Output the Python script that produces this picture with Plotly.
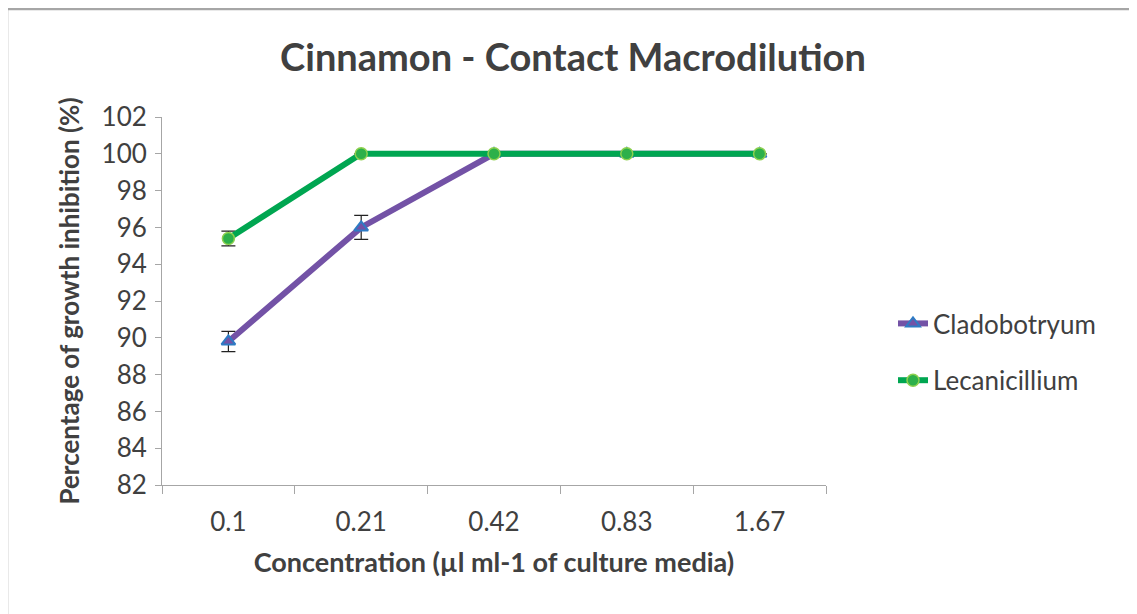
import plotly.graph_objects as go

categories = ["0.1", "0.21", "0.42", "0.83", "1.67"]
clado = [89.8, 96.0, 100.0, 100.0, 100.0]
clado_err = [0.55, 0.65, 0.0, 0.0, 0.0]
lecan = [95.4, 100.0, 100.0, 100.0, 100.0]
lecan_err = [0.4, 0.0, 0.0, 0.0, 0.0]
y_ticks = list(range(82, 103, 2))

FONT = "Lato"
OFF = 8  # page body offset
W, H = 1137 - OFF, 614 - OFF
L, T = 162 - OFF, 117 - OFF
PR, PB = 826 - OFF, 485 - OFF
R, B = W - PR, H - PB
pw, ph = PR - L, PB - T

fig = go.Figure()
fig.add_trace(go.Scatter(
    x=categories, y=clado, name="Cladobotryum", mode="lines+markers",
    legendgroup="a",
    line=dict(color="#7352A6", width=6),
    marker=dict(symbol="triangle-up", size=12, color="#7352A6",
                line=dict(color="#2E7BC4", width=2)),
    error_y=dict(type="data", array=clado_err, color="#222222", thickness=1.2, width=7),
))
fig.add_trace(go.Scatter(
    x=categories, y=lecan, name="Lecanicillium", mode="lines+markers",
    legendgroup="b",
    line=dict(color="#00A651", width=6),
    marker=dict(symbol="circle", size=12, color="#2DB04A",
                line=dict(color="#8ED04F", width=1.5)),
    error_y=dict(type="data", array=lecan_err, color="#222222", thickness=1.2, width=7),
))

fig.update_layout(
    width=W, height=H,
    margin=dict(l=L, r=R, t=T, b=B),
    plot_bgcolor="white", paper_bgcolor="white",
    font=dict(family=FONT, color="#404040"),
    title=dict(text="<b>Cinnamon - Contact Macrodilution</b>", x=(573 - OFF) / W, xanchor="center",
               y=1 - (58 - OFF) / H, yanchor="middle", font=dict(size=38, color="#404040", family=FONT)),
    xaxis=dict(
        type="category", showline=True, linecolor="#A6A6A6", linewidth=1,
        ticks="outside", tickson="boundaries", ticklen=8, tickcolor="#A6A6A6",
        tickfont=dict(size=26, color="#404040"), ticklabelstandoff=14,
        title=dict(text="<b>Concentration (µl ml-1 of culture media)</b>",
                   font=dict(size=27, color="#404040"), standoff=16),
        showgrid=False, range=[-0.5, 4.5],
    ),
    yaxis=dict(
        range=[82, 102], tickvals=y_ticks, showline=True, linecolor="#A6A6A6", linewidth=1,
        ticks="outside", ticklen=6, tickcolor="#A6A6A6", showgrid=False,
        tickfont=dict(size=26, color="#404040"), ticklabelstandoff=3,
        title=dict(text="<b>Percentage of growth inhibition (%)</b>",
                   font=dict(size=26, color="#404040"), standoff=14),
        zeroline=False,
    ),
    legend=dict(x=(893 - OFF - L) / pw, y=(PB - (300 - OFF)) / ph, xanchor="left", yanchor="top",
                font=dict(size=26, color="#404040"), tracegroupgap=20,
                traceorder="grouped", bgcolor="rgba(0,0,0,0)"),
    showlegend=True,
)

fig.add_shape(type="rect", xref="paper", yref="paper",
              x0=(7 - OFF - L) / pw, x1=(W + 10 - L) / pw,
              y0=(PB - (H + 10)) / ph, y1=(PB - (8 - OFF + 1)) / ph,
              line=dict(color="#A6A6A6", width=2.5), fillcolor="rgba(0,0,0,0)", layer="below")

fig.write_html("out.html")
